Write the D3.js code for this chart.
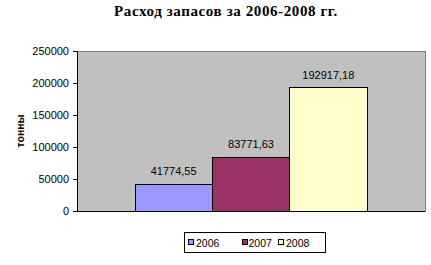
<!DOCTYPE html>
<meta charset="utf-8">
<script src="https://d3js.org/d3.v7.min.js"></script>
<style>
  body { margin: 0; background: #fff; }
  text { font-family: "Liberation Sans", Arial, sans-serif; }
</style>
<div id="chart"></div>
<script>
    // data
    const years = ["2006", "2007", "2008"];
    const values = [41774.55, 83771.63, 192917.18];
    const labels = ["41774,55", "83771,63", "192917,18"];
    const colors = ["#9999FF", "#993366", "#FFFFCC"];
    const yTicks = [0, 50000, 100000, 150000, 200000, 250000];

    const W = 431, H = 265;
    const margin = {top: 51, right: 6, bottom: 54, left: 77},
        width = W - margin.left - margin.right,
        height = H - margin.top - margin.bottom;

    const svg = d3.select("#chart")
      .append("svg")
        .attr("width", W)
        .attr("height", H);

    // title
    svg.append("text")
      .attr("x", 226)
      .attr("y", 16)
      .attr("text-anchor", "middle")
      .style("font-family", "'Liberation Serif', 'Times New Roman', serif")
      .style("font-weight", "bold")
      .style("font-size", "15px")
      .style("letter-spacing", "0.6px")
      .text("Расход запасов за 2006-2008 гг.");

    const g = svg.append("g")
      .attr("transform", `translate(${margin.left},${margin.top})`);

    // plot area
    g.append("rect")
      .attr("width", width)
      .attr("height", height)
      .attr("fill", "#C0C0C0")
      .attr("stroke", "#808080")
      .attr("stroke-width", 1)
      .attr("shape-rendering", "crispEdges");

    const y = d3.scaleLinear()
      .domain([0, 250000])
      .range([height, 0]);

    // one category, three series, gap width 150%
    const x = d3.scaleBand()
      .domain(years)
      .range([width / 2 - width / 3, width / 2 + width / 3])
      .padding(0);

    const yAxis = g.append("g")
      .call(d3.axisLeft(y).tickValues(yTicks).tickSize(4).tickPadding(4).tickFormat(d3.format("d")));
    yAxis.select(".domain").attr("stroke", "#000").attr("shape-rendering", "crispEdges");
    yAxis.selectAll(".tick line").attr("stroke", "#000").attr("shape-rendering", "crispEdges");
    yAxis.selectAll(".tick text")
      .style("font-size", "11px")
      .attr("fill", "#000");

    // y title
    svg.append("text")
      .attr("transform", `translate(24,${margin.top + height / 2}) rotate(-90)`)
      .attr("text-anchor", "middle")
      .style("font-weight", "bold")
      .style("font-size", "10.5px")
      .text("тонны");

    // bars
    g.selectAll("rect.bar")
      .data(years)
      .join("rect")
        .attr("class", "bar")
        .attr("x", d => x(d))
        .attr("y", (d, i) => y(values[i]))
        .attr("width", x.bandwidth())
        .attr("height", (d, i) => height - y(values[i]))
        .attr("fill", (d, i) => colors[i])
        .attr("stroke", "#000")
        .attr("stroke-width", 1)
        .attr("shape-rendering", "crispEdges");

    // value labels
    g.selectAll("text.lbl")
      .data(years)
      .join("text")
        .attr("class", "lbl")
        .attr("x", d => x(d) + x.bandwidth() / 2)
        .attr("y", (d, i) => y(values[i]) - 9)
        .attr("text-anchor", "middle")
        .style("font-size", "11px")
        .text((d, i) => labels[i]);

    // x axis line
    g.append("line")
      .attr("x1", 0).attr("x2", width)
      .attr("y1", height).attr("y2", height)
      .attr("stroke", "#000")
      .attr("shape-rendering", "crispEdges");

    // legend
    const legend = svg.append("g").attr("transform", "translate(184,232)");
    legend.append("rect")
      .attr("width", 141)
      .attr("height", 20)
      .attr("fill", "#fff")
      .attr("stroke", "#000")
      .attr("shape-rendering", "crispEdges");
    const itemX = [4, 58, 94];
    const textX = [8, 6.5, 8];
    const item = legend.selectAll("g.item")
      .data(years)
      .join("g")
        .attr("class", "item")
        .attr("transform", (d, i) => `translate(${itemX[i]},0)`);
    item.append("rect")
      .attr("x", 0.5).attr("y", 7.5)
      .attr("width", 5).attr("height", 5)
      .attr("fill", (d, i) => colors[i])
      .attr("stroke", "#000");
    item.append("text")
      .attr("x", (d, i) => textX[i])
      .attr("y", 14.5)
      .style("font-size", "10.5px")
      .text(d => d);
</script>
